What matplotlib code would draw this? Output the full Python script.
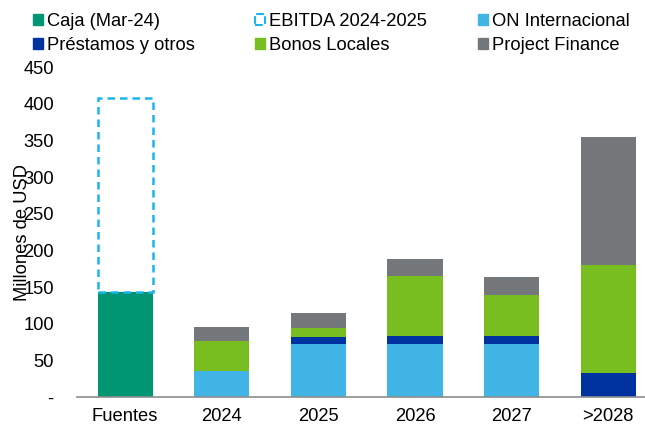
import matplotlib
matplotlib.use("Agg")
import matplotlib.pyplot as plt
from matplotlib.patches import Patch
import numpy as np

plt.rcParams['font.family'] = ['Liberation Sans', 'DejaVu Sans']
plt.rcParams['font.size'] = 13.2

# Datos (millones de USD)
categorias = ["Fuentes", "2024", "2025", "2026", "2027", ">2028"]
caja = [143, 0, 0, 0, 0, 0]
ebitda = [265, 0, 0, 0, 0, 0]
on_internacional = [0, 36, 72, 73, 73, 0]
prestamos = [0, 0, 10, 11, 11, 33]
bonos_locales = [0, 41, 12, 81, 56, 147]
project_finance = [0, 19, 21, 23, 24, 175]
yticks = [0, 50, 100, 150, 200, 250, 300, 350, 400, 450]
ytick_labels = ["-", "50", "100", "150", "200", "250", "300", "350", "400", "450"]

c_caja = "#009673"
c_ebitda = "#1AB4EE"
c_on = "#41B6E6"
c_prest = "#0033A0"
c_bonos = "#78BE20"
c_pf = "#75787B"

fig = plt.figure(figsize=(6.45, 4.28), dpi=100)
ax = fig.add_axes([0.119, 0.072, 0.881, 0.771])

x = np.arange(len(categorias))
w = 0.57

ax.bar(x, caja, w, color=c_caja)
ax.bar(x[:1], ebitda[:1], w, bottom=caja[:1], fill=False, edgecolor=c_ebitda,
       linestyle=(0, (3, 2)), linewidth=1.8)

base = np.zeros(len(x))
for vals, col in [(on_internacional, c_on), (prestamos, c_prest),
                  (bonos_locales, c_bonos), (project_finance, c_pf)]:
    ax.bar(x, vals, w, bottom=base, color=col)
    base = base + np.array(vals)

ax.set_ylim(0, 450)
ax.set_xlim(-0.5, 5.38)
ax.set_yticks(yticks)
ax.set_yticklabels(ytick_labels)
ax.set_xticks(x)
ax.set_xticklabels(categorias)
ax.tick_params(axis='y', length=0, pad=16.5)
ax.tick_params(axis='x', length=0, pad=8)
for s in ["top", "right", "left"]:
    ax.spines[s].set_visible(False)
ax.spines["bottom"].set_color("#8c8c8c")
ax.spines["bottom"].set_linewidth(1.2)

ax.set_ylabel("Millones de USD")
ax.yaxis.set_label_coords(-0.081, 0.5)

# leyenda: tres columnas en posiciones fijas
columnas = [
    (0.051, [Patch(color=c_caja, label="Caja (Mar-24)"),
             Patch(color=c_prest, label="Préstamos y otros")]),
    (0.395, [Patch(facecolor="none", edgecolor=c_ebitda, linestyle="--", linewidth=1.5,
                   label="EBITDA 2024-2025"),
             Patch(color=c_bonos, label="Bonos Locales")]),
    (0.741, [Patch(color=c_on, label="ON Internacional"),
             Patch(color=c_pf, label="Project Finance")]),
]
for xpos, hs in columnas:
    leg = fig.legend(handles=hs, loc="upper left", bbox_to_anchor=(xpos, 0.97),
                     frameon=False, handlelength=0.55, handleheight=0.55,
                     handletextpad=0.22, labelspacing=0.4, borderaxespad=0,
                     borderpad=0)

fig.savefig("out.png", dpi=100)
